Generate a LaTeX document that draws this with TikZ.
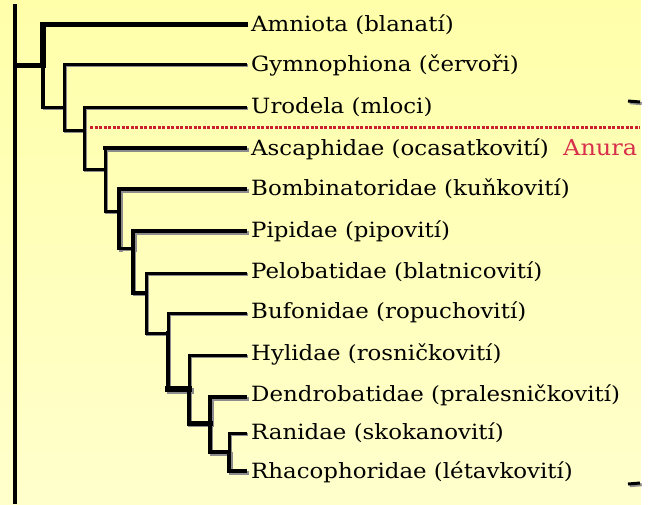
\documentclass[tikz,border=0pt]{standalone}
\usepackage{fontspec}
\setmainfont{DejaVu Serif}[FakeStretch=1.09]
\definecolor{ylwtop}{HTML}{FFFFAA}
\definecolor{ylwbot}{HTML}{FFFFCC}
\definecolor{shadowgray}{HTML}{8C8C8C}
\definecolor{anurared}{HTML}{D8304C}
\definecolor{dotred}{HTML}{CC1F2E}
\newcommand\cladebranches{%
  \draw[br] (n1 |- n2) -- (n2);
  % n2
  \draw[br] (tgym) -| (n2) |- (n3);
  % n3
  \draw[br] (turo) -| (n3) |- (n4);
  % n4
  \draw[br, line width=4pt] (tasc) -- (n4 |- tasc);
  \draw[br] (n4 |- tasc) -- (n4) |- (n5);
  % n5
  \draw[br, line width=4pt] (tbom) -| (n5);
  \draw[br, line width=4pt] (n5) -- (n5 |- n6);
  \draw[br] (n5 |- n6) -- (n6);
  % n6
  \draw[br, line width=4pt] (tpip) -| (n6);
  \draw[br, line width=3.5pt] (n6) |- (n7);
  % n7
  \draw[br] (tpel) -| (n7) |- (n8);
  % n8
  \draw[br] (tbuf) -| (n8);
  \draw[br, line width=3.5pt] (n8) -- (n8 |- n9);
  \draw[brx, line width=6pt] (n8 |- n9) -- (n9);
  % n9
  \draw[br] (thyl) -| (n9);
  \draw[br, line width=3.5pt] (n9) -- (n9 |- n10);
  \draw[brx] (n9 |- n10) -- (n10);
  % n10
  \draw[br, line width=4pt] (tden) -| (n10);
  \draw[br, line width=3.5pt] (n10) -- (n10 |- n11);
  \draw[br, line width=4pt] (n10 |- n11) -- (n11);
  % n11
  \draw[br] (tran) -| (n11);
  \draw[br, line width=4pt] (n11) |- (trha);
  % right-hand ticks
  \draw[tick] (ta1) -- (ta2);
  \draw[tick] (tb1) -- (tb2);
}
\begin{document}
\begin{tikzpicture}[x=1pt,y=-1pt,
  br/.style={line width=3pt, line cap=rect, line join=miter},
  brx/.style={line width=5pt, line cap=rect, line join=miter},
  lab/.style={anchor=base west, inner sep=0pt, font=\fontsize{21}{25}\selectfont},
  anura/.style={anchor=base west, inner sep=0pt, text=anurared, font=\fontsize{22}{26}\selectfont},
  tick/.style={line width=3pt}]
% background
\fill[top color=ylwtop, bottom color=ylwbot] (0,0) rectangle (641,504);
\fill[white] (641,0) rectangle (650,504);
\useasboundingbox (0,0) rectangle (650,504);

% labels
\node[lab] (amn) at (251,31) {Amniota (blanatí)};
\node[lab] (gym) at (251,71) {Gymnophiona (červoři)};
\node[lab] (uro) at (251,113) {Urodela (mloci)};
\node[lab] (asc) at (251,155) {Ascaphidae (ocasatkovití)};
\node[lab] (bom) at (251,195) {Bombinatoridae (kuňkovití)};
\node[lab] (pip) at (251,237) {Pipidae (pipovití)};
\node[lab] (pel) at (251,278) {Pelobatidae (blatnicovití)};
\node[lab] (buf) at (251,318) {Bufonidae (ropuchovití)};
\node[lab] (hyl) at (251,360) {Hylidae (rosničkovití)};
\node[lab] (den) at (251,401) {Dendrobatidae (pralesničkovití)};
\node[lab] (ran) at (251,439) {Ranidae (skokanovití)};
\node[lab] (rha) at (251,478) {Rhacophoridae (létavkovití)};
\node[anura] (anu) at (563,155) {Anura};

% leaf tips
\coordinate (tamn) at (245,24.5);
\coordinate (tgym) at (245,64);
\coordinate (turo) at (245,107);
\coordinate (tasc) at (245,148);
\coordinate (tbom) at (245,189);
\coordinate (tpip) at (245,231);
\coordinate (tpel) at (245,273);
\coordinate (tbuf) at (245,313);
\coordinate (thyl) at (245,355);
\coordinate (tden) at (245,397);
\coordinate (tran) at (245,433);
\coordinate (trha) at (245,471);

% internal nodes
\coordinate (rtop) at (15,4);
\coordinate (rbot) at (15,504);
\coordinate (root) at (15,65);
\coordinate (n1) at (43,65);
\coordinate (n2) at (64,107);
\coordinate (n3) at (84,130);
\coordinate (n4) at (105,169);
\coordinate (n5) at (119,211);
\coordinate (n6) at (133,248);
\coordinate (n7) at (146,293);
\coordinate (n8) at (168,333);
\coordinate (n9) at (189,389);
\coordinate (n10) at (210,423);
\coordinate (n11) at (229,452);

% right-hand tick ends
\coordinate (ta1) at (628,101);
\coordinate (ta2) at (640,102);
\coordinate (tb1) at (628,484);
\coordinate (tb2) at (640,483);

% shadow copy of branches
\begin{scope}[shadowgray, transform canvas={shift={(1.7pt,-1.7pt)}}]
  \cladebranches
\end{scope}
% branches
\cladebranches
% root and first split (no shadow)
\draw[line width=3.5pt] (rtop) -- (rbot);
\draw[brx] (root) -- (n1);
\draw[brx, line width=5.5pt] (tamn) -| (n1);
\draw[brx, line width=4.5pt] (n1) -- (n1 |- n2);

% Anura boundary
\coordinate (d1) at (90,127);
\coordinate (d2) at (640,127);
\draw[dotred, line width=3pt, dash pattern=on 3pt off 1.5pt] (d1) -- (d2);
\end{tikzpicture}
\end{document}
